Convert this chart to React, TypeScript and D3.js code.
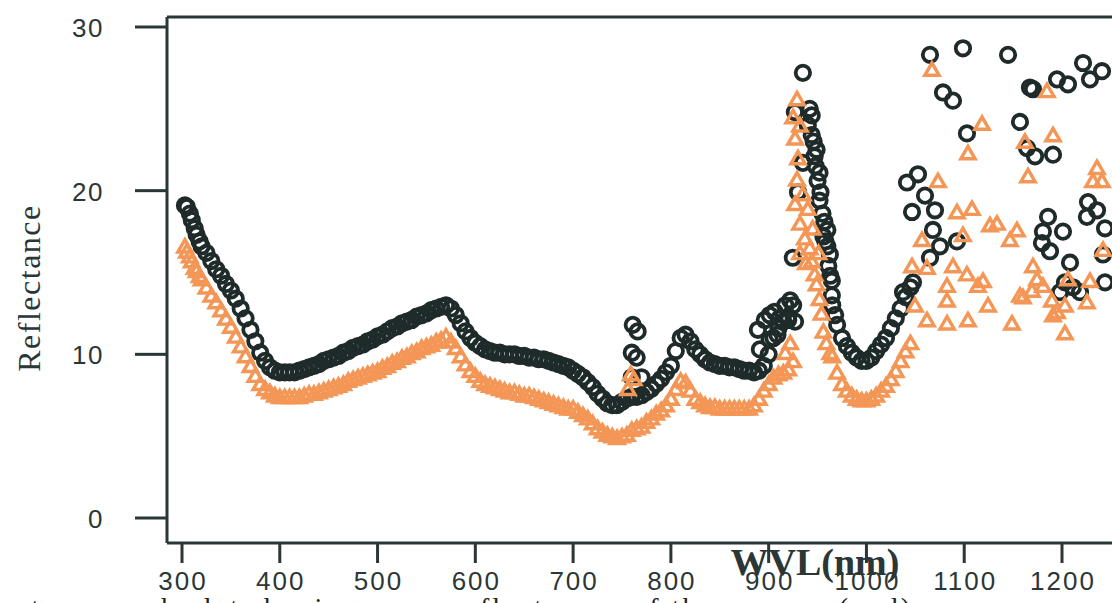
import React from 'react';
import * as d3 from 'd3';

const xTicks = [300, 400, 500, 600, 700, 800, 900, 1000, 1100, 1200];
const yTicks = [0, 10, 20, 30];

const blackMain: [number, number][] = [
  [303,19.1],[305,19.0],[308,18.6],[310,18.2],[313,17.7],[315,17.3],[318,16.9],[320,16.6],[325,16.2],[330,15.7],[335,15.2],[340,14.8],[345,14.3],[350,13.9],[355,13.4],[360,12.8],[365,12.2],[370,11.5],[375,10.8],[380,10.1],[385,9.6],[390,9.2],[395,9.0],[400,8.9],[405,8.9],[410,8.9],[415,8.9],[420,9.0],[425,9.1],[430,9.2],[435,9.3],[440,9.4],[445,9.6],[450,9.7],[455,9.8],[460,9.9],[465,10.1],[470,10.2],[475,10.4],[480,10.5],[485,10.6],[490,10.8],[495,10.9],[500,11.1],[505,11.2],[510,11.4],[515,11.6],[520,11.7],[525,11.9],[530,12.0],[535,12.1],[540,12.3],[545,12.4],[550,12.5],[555,12.7],[560,12.8],[565,12.9],[570,13.0],[575,12.8],[580,12.4],[585,11.9],[590,11.4],[595,11.0],[600,10.7],[605,10.5],[610,10.3],[615,10.2],[620,10.1],[625,10.1],[630,10.0],[635,10.0],[640,10.0],[645,9.9],[650,9.9],[655,9.8],[660,9.8],[665,9.7],[670,9.7],[675,9.6],[680,9.5],[685,9.4],[690,9.3],[695,9.2],[700,9.0],[705,8.8],[710,8.6],[715,8.3],[720,8.0],[725,7.6],[730,7.3],[735,7.0],[740,6.9],[745,6.9],[750,7.1],[755,7.3],[760,7.4],[765,7.4],[770,7.5],[775,7.7],[780,7.9],[785,8.2],[790,8.5],[795,8.9],[800,9.3],[805,10.2],[810,11.0],[815,11.2],[820,10.8],[825,10.3],[830,10.0],[835,9.7],[840,9.5],[845,9.4],[850,9.3],[855,9.3],[860,9.2],[865,9.2],[870,9.1],[875,9.0],[880,9.0],[885,8.9],[890,9.0],[895,9.3],[900,10.0],[905,11.0],[910,11.6],[915,12.0],[920,12.3],[925,13.0],[965,13.0],[968,12.4],[970,11.8],[975,11.0],[980,10.5],[985,10.1],[990,9.8],[995,9.6],[1000,9.6],[1005,9.8],[1010,10.2],[1015,10.6],[1020,11.0],[1025,11.6],[1030,12.2],[1035,12.8],[1040,13.5],[1045,14.1]
];

const blackSpike: [number, number][] = [
  [924.7,15.9],[926.8,24.8],[930,19.9],[935,21.7],[935,27.2],[940,24.0],[942,25.0],[944,24.6],[944,23.4],[946,23.0],[947,22.1],[948,21.5],[949,22.5],[950,20.6],[952,21.1],[952,19.4],[953,19.9],[955,18.6],[956,17.2],[957,18.1],[958,16.9],[960,17.6],[960,16.6],[961,15.4],[962.6,16.1],[963,14.8],[964.6,14.5],[964.6,13.6]
];

const blackOutliers: [number, number][] = [
  [761,11.8],[766,11.4],[760,10.1],[765,9.8],[760,8.6],[770,8.6],[889,11.5],[891,10.3],[896,12.1],[901,12.4],[906,12.6],[911,12.2],[917,13.0],[922,13.3],[920,12.1],[927,12.0],[901,10.9],[909,11.2]
];

const blackScatter: [number, number][] = [
  [1037.4,13.8],[1047.6,14.4],[1041.5,20.5],[1052.7,21.0],[1059.9,19.7],[1046.6,18.7],[1070.1,18.8],[1068,17.6],[1075.2,16.6],[1092.6,16.9],[1065,15.9],[1065,28.3],[1098.7,28.7],[1144.8,28.3],[1078.3,26.0],[1088.5,25.5],[1102.8,23.5],[1157,24.2],[1164.2,22.6],[1172.4,22.1],[1190.8,22.2],[1167.2,26.3],[1170.3,26.2],[1194.9,26.8],[1206.1,26.5],[1221.5,27.8],[1228.6,26.8],[1240.9,27.3],[1185.7,18.4],[1180.5,17.5],[1201,17.5],[1179.5,16.8],[1187.7,16.3],[1226.6,19.3],[1235.8,18.8],[1225.5,18.4],[1244,17.7],[1208.2,15.6],[1203,14.4],[1211.2,14.1],[1198,13.8],[1218.4,13.8],[1244,14.4],[1241.9,16.1]
];

const orangeMain: [number, number][] = [
  [303,16.5],[305,16.2],[308,15.9],[310,15.6],[313,15.2],[315,15.0],[318,14.7],[320,14.5],[325,14.0],[330,13.5],[335,13.1],[340,12.6],[345,12.1],[350,11.6],[355,11.0],[360,10.4],[365,9.8],[370,9.2],[375,8.6],[380,8.1],[385,7.8],[390,7.6],[395,7.4],[400,7.3],[405,7.3],[410,7.3],[415,7.3],[420,7.3],[425,7.4],[430,7.5],[435,7.5],[440,7.6],[445,7.7],[450,7.8],[455,7.9],[460,8.0],[465,8.1],[470,8.3],[475,8.4],[480,8.5],[485,8.6],[490,8.7],[495,8.8],[500,8.9],[505,9.1],[510,9.2],[515,9.4],[520,9.5],[525,9.7],[530,9.8],[535,10.0],[540,10.1],[545,10.3],[550,10.4],[555,10.5],[560,10.7],[565,10.8],[570,11.0],[575,10.7],[580,10.3],[585,9.8],[590,9.3],[595,8.9],[600,8.6],[605,8.3],[610,8.1],[615,8.0],[620,7.9],[625,7.8],[630,7.7],[635,7.6],[640,7.6],[645,7.5],[650,7.4],[655,7.4],[660,7.3],[665,7.2],[670,7.1],[675,7.0],[680,6.9],[685,6.8],[690,6.7],[695,6.6],[700,6.6],[705,6.4],[710,6.2],[715,6.0],[720,5.7],[725,5.4],[730,5.2],[735,5.0],[740,4.9],[745,4.8],[750,4.9],[755,5.0],[760,5.3],[765,5.4],[770,5.5],[775,5.8],[780,6.0],[785,6.3],[790,6.5],[795,6.8],[800,7.2],[805,7.8],[810,8.3],[815,8.2],[820,7.7],[825,7.2],[830,7.0],[835,6.8],[840,6.7],[845,6.7],[850,6.6],[855,6.6],[860,6.6],[865,6.6],[870,6.6],[875,6.6],[880,6.6],[885,6.8],[890,7.2],[895,7.7],[900,8.1],[905,8.5],[910,8.7],[915,8.8],[920,9.0],[925,9.5],[965,9.8],[970,8.8],[975,8.1],[980,7.7],[985,7.4],[990,7.2],[995,7.1],[1000,7.1],[1005,7.2],[1010,7.4],[1015,7.7],[1020,8.0],[1025,8.4],[1030,8.9],[1035,9.5],[1040,10.1],[1045,10.6]
];

const orangeSpike: [number, number][] = [
  [929,25.5],[925,24.4],[932,23.9],[927,23.1],[930,21.9],[929,20.6],[935,19.7],[927,19.1],[940,18.8],[932,17.9],[945,17.6],[937,17.0],[942,16.4],[932,16.1],[951,16.1],[944,15.6],[938,15.5],[947,14.8],[949,14.2],[952,13.3],[954,12.4],[956,11.3],[959,10.6],[963,10.0],[917,10.0],[922,10.6],[759,8.7],[762,8.4],[756,7.8]
];

const orangeScatter: [number, number][] = [
  [1067,27.3],[1184.6,26.0],[1118.2,24.0],[1190.8,23.3],[1103.8,22.2],[1162.1,22.9],[1165.2,20.8],[1073.2,20.5],[1235.8,21.3],[1231.7,20.5],[1240.9,20.5],[1092.6,18.6],[1107.9,18.8],[1126.3,17.8],[1133.5,17.9],[1153.9,17.5],[1146.8,16.9],[1056.8,16.9],[1098.7,17.2],[1046.6,15.3],[1061.9,15.2],[1088.5,15.3],[1102.8,14.8],[1119.2,14.4],[1082.4,14.1],[1170.3,15.3],[1174.4,14.5],[1180.5,14.1],[1160.1,13.4],[1189.7,13.2],[1225.5,13.1],[1203,12.9],[1049.6,12.9],[1082.4,13.2],[1124.3,12.9],[1061.9,12.0],[1082.4,11.8],[1103.8,12.0],[1148.8,11.8],[1190.8,12.3],[1203,11.2],[1206.1,14.5],[1228.6,14.4],[1169.3,13.8],[1194.9,12.5],[1114,14.1],[1157,13.5],[1242,16.3]
];

const AXIS = '#2b3636';
const BLACK = '#1f2b2a';
const ORANGE = '#f39656';

export default function App() {
  const x = d3.scaleLinear().domain([300, 1200]).range([182, 1062]);
  const y = d3.scaleLinear().domain([0, 30]).range([518, 27]);
  const tri = d3.symbol().type(d3.symbolTriangle).size(88)() as string;
  const black = [...blackMain, ...blackOutliers, ...blackSpike, ...blackScatter];
  const orange = [...orangeMain, ...orangeSpike, ...orangeScatter];
  const left = 167, top = 17, bottom = 543;
  return (
    <svg width={1112} height={603} style={{ position: 'absolute', left: 0, top: 0 }}>
      <rect width={1112} height={603} fill="#ffffff" />
      <g>
        {black.map((d, i) => (
          <circle key={'b' + i} cx={x(d[0])} cy={y(d[1])} r={7.2} fill="none" stroke={BLACK} strokeWidth={3.8} />
        ))}
      </g>
      <g>
        {orange.map((d, i) => (
          <path key={'o' + i} d={tri} transform={`translate(${x(d[0])},${y(d[1])})`} fill="none" stroke={ORANGE} strokeWidth={3.4} />
        ))}
      </g>
      <line x1={left} y1={top} x2={1112} y2={top} stroke={AXIS} strokeWidth={3} />
      <line x1={left} y1={top} x2={left} y2={bottom} stroke={AXIS} strokeWidth={3} />
      <line x1={left} y1={bottom} x2={1112} y2={bottom} stroke={AXIS} strokeWidth={3} />
      {yTicks.map(t => (
        <g key={'yt' + t}>
          <line x1={135} x2={left} y1={y(t)} y2={y(t)} stroke={AXIS} strokeWidth={3} />
          <text x={104} y={y(t) + 10} textAnchor="end" fontFamily="'Liberation Sans', Arial, sans-serif" fontSize={26} letterSpacing={1.5} fill={AXIS}>{t}</text>
        </g>
      ))}
      {xTicks.map(t => (
        <g key={'xt' + t}>
          <line x1={x(t)} x2={x(t)} y1={bottom} y2={563} stroke={AXIS} strokeWidth={3} />
          <text x={x(t) + 1} y={590} textAnchor="middle" fontFamily="'Liberation Sans', Arial, sans-serif" fontSize={26} letterSpacing={2} fill={AXIS}>{t}</text>
        </g>
      ))}
      <text x={815} y={575} textAnchor="middle" fontFamily="'Liberation Serif', 'Times New Roman', serif" fontWeight="bold" fontSize={38} fill={AXIS}>WVL(nm)</text>
      <text transform="translate(40,288) rotate(-90)" textAnchor="middle" fontFamily="'Liberation Serif', 'Times New Roman', serif" fontSize={32} letterSpacing={1.5} fill={AXIS}>Reflectance</text>
      <text x={-60} y={617} fontFamily="'Liberation Serif', 'Times New Roman', serif" fontSize={28} textLength={970} lengthAdjust="spacing" fill="#222">Reflectances calculated using mean reflectances of the sensors (and)</text>
    </svg>
  );
}
